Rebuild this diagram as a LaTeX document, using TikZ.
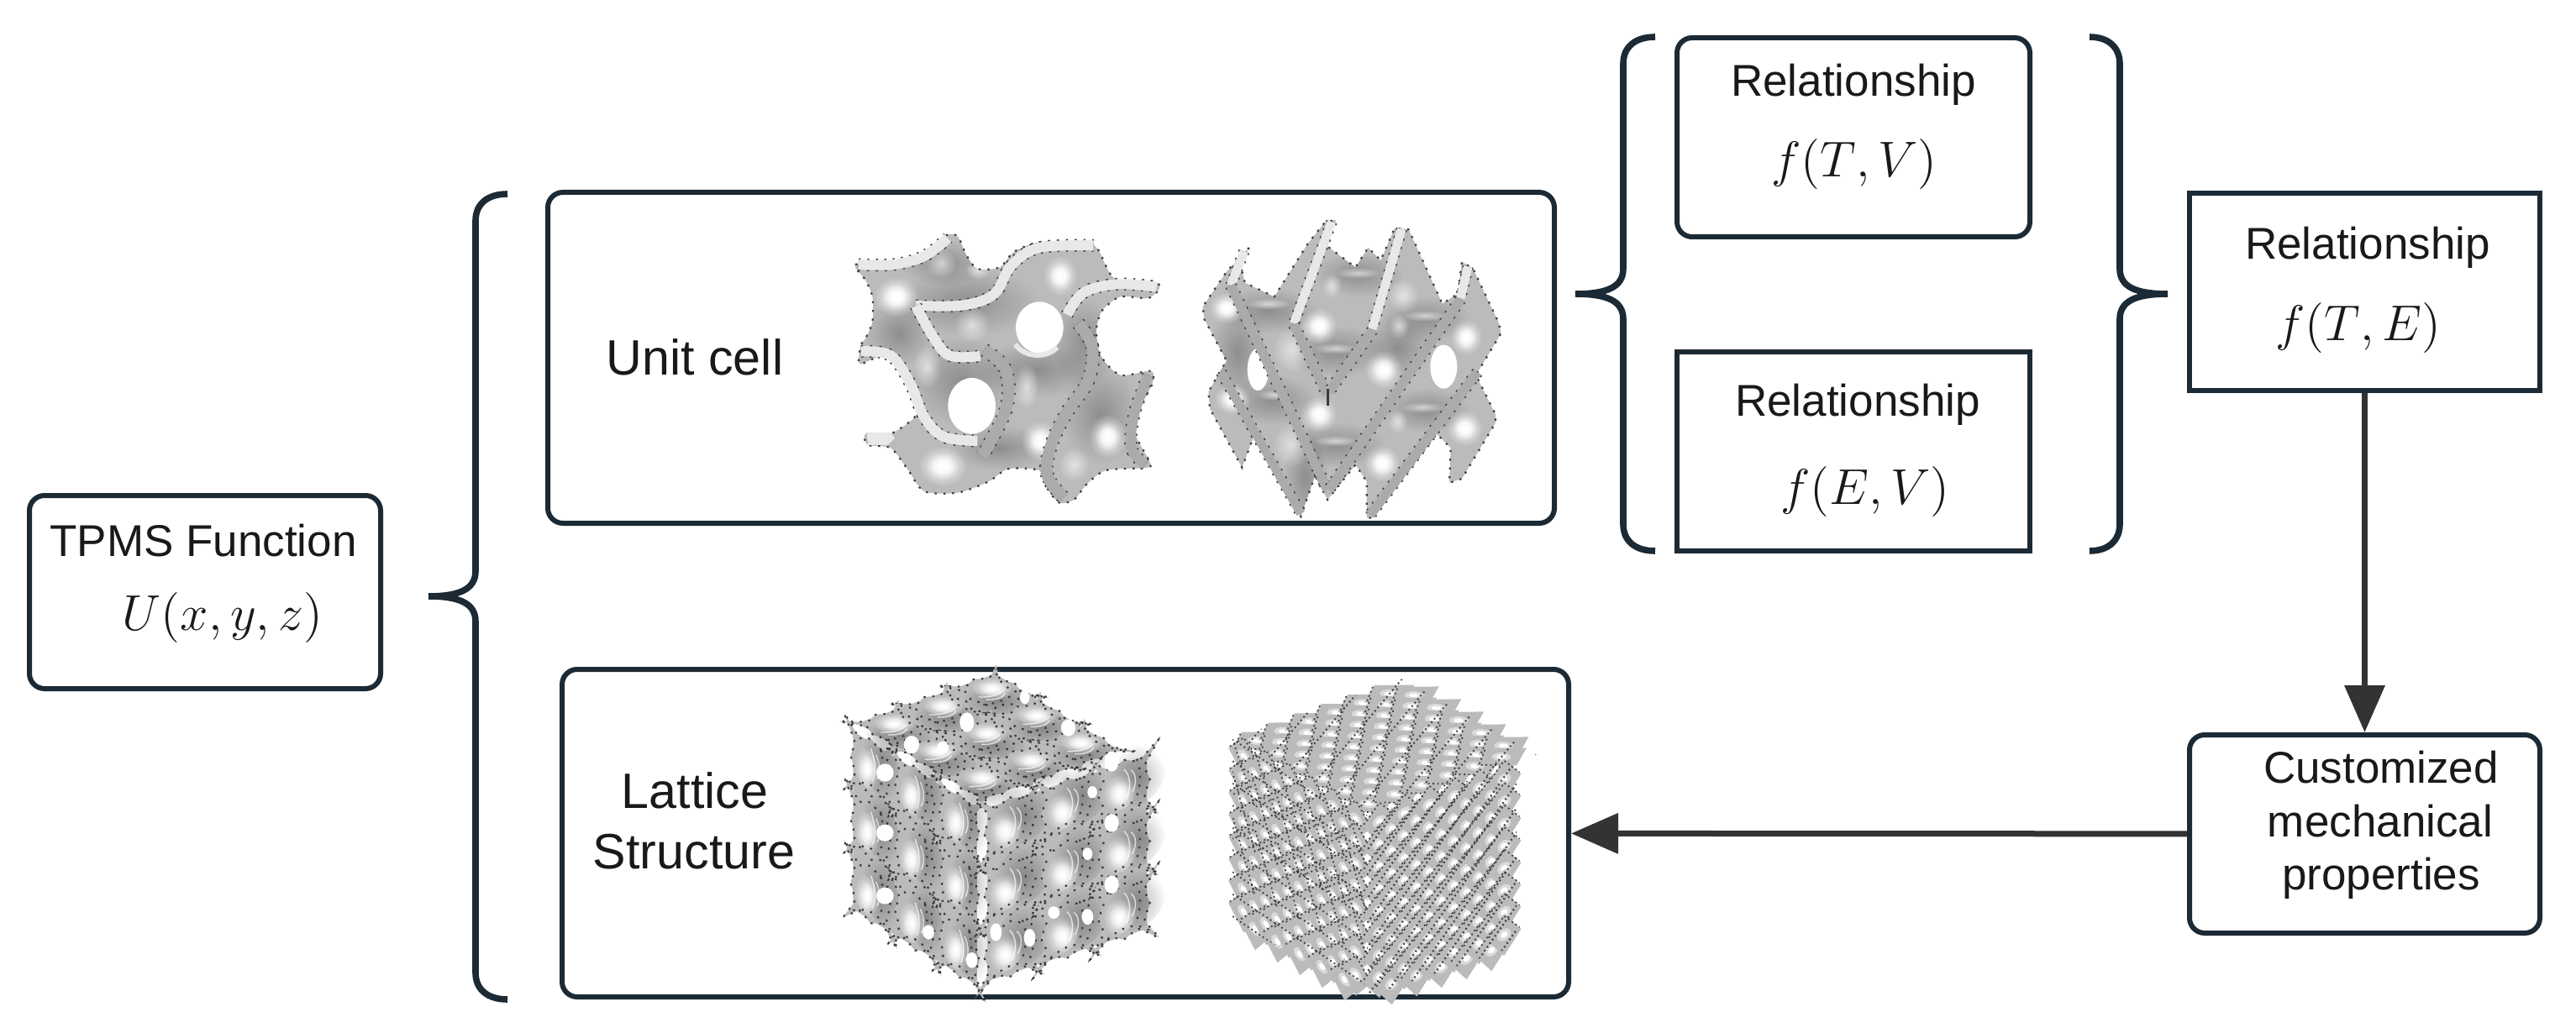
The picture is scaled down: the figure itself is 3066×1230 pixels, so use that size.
\documentclass[tikz,border=0pt]{standalone}
\usepackage{fontspec}
\setmainfont{Liberation Sans}
\usetikzlibrary{arrows.meta,fadings}
\definecolor{dk}{HTML}{1B2A35}
\definecolor{arrc}{HTML}{333333}
\definecolor{base}{HTML}{BBBBBB}
\definecolor{lband}{HTML}{E8E8E8}
\definecolor{mband}{HTML}{ABABAB}
\definecolor{dotc}{HTML}{3C3C3C}
\definecolor{ring}{HTML}{DADADA}
\tikzfading[name=softspot,inner color=transparent!0,outer color=transparent!100]
\tikzset{
  box/.style={draw=dk,line width=1.5pt,rounded corners=4.5pt,inner sep=0pt,fill=white},
  sbox/.style={draw=dk,line width=1.5pt,inner sep=0pt,fill=white},
  lab/.style={anchor=base,inner sep=0pt,font=\fontsize{13.25}{15}\selectfont,text=black!90},
  labb/.style={anchor=base,inner sep=0pt,font=\fontsize{14.8}{17}\selectfont,text=black!90},
  mth/.style={anchor=base,inner sep=0pt,font=\fontsize{14.4}{17}\selectfont,text=black!90,scale=1.04},
  brc/.style={draw=dk,line width=1.9pt,line join=bevel,line cap=butt},
  arr/.style={draw=arrc,line width=1.75pt,-{Triangle[length=14pt,width=11.75pt]}},
  dots/.style={dotc,line width=.55pt,dash pattern=on .6pt off 2pt},
  dotsb/.style={dotc,line width=.45pt,dash pattern=on .45pt off .9pt},
}
\newcommand\spot[4]{\fill[white,path fading=softspot] (#1,#2) ellipse ({1.9*#3} and {1.9*#4});
  \fill[white,path fading=softspot] (#1,#2) ellipse ({1.3*#3} and {1.3*#4});
  \fill[white,path fading=softspot] (#1,#2) ellipse ({.95*#3} and {.95*#4});}
\newcommand\fspot[4]{\fill[white,opacity=.6,path fading=softspot] (#1,#2) ellipse ({2*#3} and {2*#4});}
\newcommand\dspot[4]{\fill[black,opacity=.24,path fading=softspot] (#1,#2) ellipse ({2*#3} and {2*#4});}
\newcommand\band[3]{\draw[line width=#2pt+.75pt,dash pattern=on .6pt off 2pt,dotc] plot[smooth,tension=.6] coordinates {#3};
  \draw[line width=#2pt,#1] plot[smooth,tension=.6] coordinates {#3};}
\newcommand\leftbrace[6]{\draw[brc] (#3,#4) .. controls (#2+14,#4) and (#2,#4+12) .. (#2,#4+32) -- (#2,#5-30) .. controls (#2,#5-8) and (#2-20,#5) .. (#1,#5) .. controls (#2-20,#5) and (#2,#5+8) .. (#2,#5+30) -- (#2,#6-32) .. controls (#2,#6-12) and (#2+14,#6) .. (#3,#6);}
\newcommand\rightbrace[6]{\draw[brc] (#3,#4) .. controls (#2-14,#4) and (#2,#4+12) .. (#2,#4+32) -- (#2,#5-30) .. controls (#2,#5-8) and (#2+20,#5) .. (#1,#5) .. controls (#2+20,#5) and (#2,#5+8) .. (#2,#5+30) -- (#2,#6-32) .. controls (#2,#6-12) and (#2-14,#6) .. (#3,#6);}
% one star of the coarse lattice, drawn in the unit square of its face
\newcommand\starpath{plot[smooth cycle,tension=.35] coordinates {(-.1,-.1)(.25,.14)(.5,.05)(.75,.14)(1.1,-.1)(.86,.25)(.95,.5)(.86,.75)(1.1,1.1)(.75,.86)(.5,.95)(.25,.86)(-.1,1.1)(.14,.75)(.05,.5)(.14,.25)}}
\newcommand\starcell{%
  \fill[base] \starpath;
  \draw[dots] \starpath;
  \fill[black,opacity=.28,path fading=softspot] (.74,.36) circle (.5);
  \fill[white,path fading=softspot] (.42,.55) circle (.3);
  \fill[white,path fading=softspot] (.42,.55) circle (.2);
  \draw[dots] (.1,.92) .. controls (.45,.72) and (.7,.72) .. (.95,.95);
  \draw[dots] (.72,.1) .. controls (.8,.3) and (.8,.55) .. (.7,.75);
  \draw[white,opacity=.7,line width=.35pt] (.62,.25) .. controls (.72,.35) and (.72,.5) .. (.64,.62);
  \draw[white,opacity=.7,line width=.35pt] (.5,.2) .. controls (.62,.35) and (.62,.55) .. (.54,.7);
}
\newcommand\coarseface{%
  \fill[base] (.1,.1) -- (2.9,.1) -- (2.9,2.9) -- (.1,2.9) -- cycle;
  \foreach \i in {0,1,2} \foreach \j in {0,1,2} {\begin{scope}[shift={(\i,\j)}]\starcell\end{scope}}
}
% fine lattice
\newcommand\fineface[2]{%
  \foreach \i in {0,...,#1} {
    \pgfmathsetmacro\xx{\i*.5+.5}
    \pgfmathsetmacro\oo{mod(\i,2)*.5+.5}
    \foreach \j in {0,...,#2} {
      \pgfmathsetmacro\yy{\j+\oo}
      \begin{scope}[shift={(\xx,\yy)}]
        \fill[base] (-.68,0) -- (0,.95) -- (.68,0) -- (0,-.95) -- cycle;
        \draw[dotsb] (-.62,-.1) -- (0,-.85) -- (.62,-.1);
        \fill[ring] (0,0) circle (.27);
        \fill[white] (0,0) circle (.14);
      \end{scope}
    }
  }
}
\begin{document}
\begin{tikzpicture}[x=.25pt,y=-.25pt]
\useasboundingbox (0,0) rectangle (3066,1230);
\fill[white] (0,0) rectangle (3066,1230);
% boxes
\node[box,minimum width=104.5pt,minimum height=57.5pt] (tpms) at (244,705) {};
\node[box,minimum width=299.5pt,minimum height=98.5pt] (unit) at (1251,426) {};
\node[box,minimum width=299.5pt,minimum height=97.5pt] (latt) at (1268,992) {};
\node[box,minimum width=105pt,minimum height=59.25pt] (rela) at (2206,163.5) {};
\node[sbox,minimum width=105pt,minimum height=59.25pt] (relb) at (2206,537.5) {};
\node[sbox,minimum width=104.25pt,minimum height=58.75pt] (relc) at (2814.5,347.5) {};
\node[box,minimum width=104.25pt,minimum height=59pt] (cust) at (2814.5,993) {};
% texts
\node[lab] (t1) at (242,662) {TPMS Function};
\node[mth] (t2) at (265,750) {$U(x{,}\,y{,}\,z)$};
\node[labb] (t3) at (827,446) {Unit cell};
\node[labb] (t4) at (827,962) {Lattice};
\node[labb] (t5) at (826,1034) {Structure};
\node[lab] (t6) at (2206,115) {Relationship};
\node[mth] (t7) at (2207,211) {$f(T{,}\,V)$};
\node[lab] (t8) at (2211,496) {Relationship};
\node[mth] (t9) at (2220,600) {$f(E{,}\,V)$};
\node[lab] (t10) at (2818,309) {Relationship};
\node[mth] (t11) at (2807,406) {$f(T{,}\,E)$};
\node[lab] (t12) at (2834,932) {Customized};
\node[lab] (t13) at (2833,996) {mechanical};
\node[lab] (t14) at (2834,1059) {properties};
% braces
\leftbrace{510}{566}{604}{231}{710}{1190}
\leftbrace{1875}{1932}{1970}{44}{350}{656}
\rightbrace{2580}{2523}{2487}{44}{350}{656}
% arrows
\draw[arr] (relc) -- (cust);
\draw[arr] (cust) -- (latt);
% ---------- gyroid unit cell
\begin{scope}[shift={(950,200)},x=.08333pt,y=-.08333pt]
\def\outl{plot[smooth cycle,tension=.45] coordinates {(205,345)(340,340)(450,310)(530,240)(570,245)(600,310)(640,360)(720,355)(770,300)(860,265)(1020,262)(1070,290)(1130,395)(1270,405)(1290,430)(1250,465)(1150,460)(1085,510)(1065,580)(1080,670)(1150,740)(1260,725)(1265,770)(1225,850)(1205,950)(1250,1040)(1250,1070)(1100,1080)(1030,1130)(985,1185)(930,1195)(880,1130)(860,1080)(750,1075)(680,1120)(570,1160)(450,1155)(390,1075)(330,1000)(250,990)(240,950)(330,950)(430,870)(380,750)(310,670)(220,700)(225,630)(240,610)(265,550)(265,460)(240,400)}}
\fill[base] \outl;
\begin{scope}
\clip \outl;
\dspot{600}{480}{130}{60}
\dspot{850}{720}{110}{50}
\dspot{580}{760}{90}{80}
\dspot{360}{590}{60}{60}
\dspot{1080}{880}{70}{90}
\dspot{720}{1000}{90}{40}
\dspot{520}{340}{80}{40}
\dspot{1020}{620}{60}{80}
\spot{350}{460}{42}{38}
\spot{935}{385}{32}{38}
\fspot{620}{560}{32}{32}
\fspot{510}{340}{28}{26}
\fspot{460}{710}{25}{38}
\fspot{815}{780}{22}{42}
\fspot{640}{365}{22}{16}
\spot{865}{975}{36}{38}
\spot{1105}{960}{36}{42}
\spot{515}{1065}{46}{38}
\fspot{985}{1060}{28}{30}
\end{scope}
\fill[white] (862,570) ellipse (85 and 92);
\draw[lband,line width=1.5pt] (775,630) .. controls (810,680) and (890,680) .. (925,640);
\fill[white] (620,850) ellipse (85 and 100);
\draw[dots] \outl;
\band{lband}{3}{(215,345)(340,345)(450,315)(535,250)}
\band{lband}{3}{(420,492)(590,490)(700,450)(760,350)(860,285)(1055,277)}
\band{lband}{3}{(960,525)(1020,445)(1140,415)(1280,425)}
\band{lband}{3}{(420,492)(480,600)(540,670)(650,672)}
\band{mband}{3.4}{(665,650)(740,720)(745,850)(680,990)(655,1030)}
\band{mband}{3.4}{(1000,555)(1050,640)(1035,760)(955,880)(900,1000)(890,1100)(950,1180)}
\band{lband}{3}{(225,655)(330,670)(400,770)(450,890)(520,960)(640,975)}
\band{mband}{3}{(1250,740)(1200,880)(1190,1000)(1240,1060)}
\fill[lband] (245,945) -- (330,945) -- (345,965) -- (320,990) -- (250,990) -- cycle;
\end{scope}
% ---------- second unit cell
\begin{scope}[shift={(1410,240)},x=.08333pt,y=-.08333pt]
\def\outl{(230,165)--(150,250)--(65,375)--(70,420)--(150,570)--(130,600)--(85,680)--(90,740)--(205,950)--(250,830)--(350,1020)--(415,1125)--(465,980)--(510,1065)--(610,940)--(650,1000)--(650,1130)--(670,1130)--(900,830)--(950,880)--(945,1005)--(990,990)--(1110,790)--(1110,760)--(1040,620)--(1130,470)--(1120,430)--(1030,240)--(990,215)--(975,330)--(920,365)--(800,100)--(750,95)--(700,210)--(655,165)--(610,235)--(510,160)--(540,65)--(500,75)--(440,150)--(320,340)--(215,290)--(200,230)--cycle}
\fill[base] \outl;
\begin{scope}
\clip \outl;
\dspot{300}{390}{90}{40}
\dspot{620}{260}{80}{40}
\dspot{540}{535}{90}{45}
\dspot{860}{420}{80}{40}
\dspot{190}{540}{50}{90}
\dspot{310}{710}{80}{45}
\dspot{540}{870}{90}{40}
\dspot{860}{745}{80}{40}
\dspot{760}{520}{60}{60}
\dspot{430}{980}{40}{90}
\spot{150}{380}{34}{30}
\spot{480}{445}{34}{34}
\fspot{385}{530}{35}{40}
\spot{710}{600}{36}{36}
\spot{1005}{485}{30}{34}
\spot{170}{705}{34}{30}
\spot{480}{760}{34}{34}
\fspot{385}{870}{35}{40}
\spot{705}{935}{34}{34}
\spot{1000}{810}{34}{34}
\fspot{780}{335}{28}{30}
\fspot{525}{300}{18}{22}
\fspot{765}{445}{18}{22}
\fspot{760}{785}{18}{22}
\fspot{620}{255}{40}{10}
\fspot{300}{365}{40}{10}
\fspot{540}{525}{40}{10}
\fspot{860}{408}{40}{10}
\fspot{540}{855}{40}{10}
\fspot{850}{735}{40}{10}
\fspot{320}{690}{30}{10}
\end{scope}
\fill[white] (925,590) ellipse (48 and 78);
\fill[white] (262,600) ellipse (38 and 75);
\draw[dots] \outl;
\band{lband}{2.6}{(525,72)(390,435)}
\band{lband}{2.6}{(775,98)(670,455)}
\band{lband}{2.6}{(212,178)(165,300)}
\band{lband}{2.6}{(1012,232)(985,345)}
\band{mband}{2.8}{(165,300)(510,1030)}
\band{mband}{2.8}{(985,350)(515,1030)}
\band{mband}{2.8}{(390,440)(510,690)}
\band{mband}{2.8}{(670,460)(515,680)}
\band{mband}{2.8}{(1045,610)(662,1120)}
\band{mband}{2.6}{(130,610)(415,1115)}
\draw[dotc,line width=.8pt] (512,670) -- (512,730);
\end{scope}
% ---------- coarse lattice
\begin{scope}[shift={(1010,860)},x={(13.17pt,-8.08pt)},y={(14.58pt,5.25pt)}]
\coarseface
\end{scope}
\begin{scope}[shift={(1010,860)},x={(13.17pt,-8.08pt)},y={(0pt,-18.9pt)}]
\coarseface
\end{scope}
\begin{scope}[shift={(1168,957)},x={(17pt,5.58pt)},y={(0pt,-18.4pt)}]
\coarseface
\end{scope}
\begin{scope}[shift={(950,770)},x=.1435pt,y=-.08333pt]
\foreach \hx/\hy/\rx/\ry in {235/350/16/32,180/450/18/32,350/270/15/35,300/360/12/22,650/410/15/36,560/290/15/30,470/180/10/25,650/630/15/32,180/665/18/30,600/740/10/22,650/850/15/32,180/890/18/30,530/950/12/22,600/965/12/28,480/1040/12/32,410/1020/12/32,270/1020/12/26,360/1120/12/28,610/520/10/22}
  {\fill[white] (\hx,\hy) ellipse ({\rx} and {\ry});}
\end{scope}
% ---------- fine lattice
\begin{scope}[shift={(1467,880)},x={(6.67pt,-3.75pt)},y={(7.875pt,2.79pt)}]
\fineface{10}{5}
\begin{scope}
\clip (0,0) -- (6,0) -- (6,6.4) -- (0,6.4) -- cycle;
\foreach \k in {-4,...,7} {\draw[dotsb,line width=.5pt] (\k,6.4) -- ++(3.6,-6.4);}
\end{scope}
\end{scope}
\begin{scope}[shift={(1467,880)},x={(6.67pt,-3.75pt)},y={(0pt,-6.6pt)}]
\fineface{10}{7}
\begin{scope}
\clip (0,0) -- (6,0) -- (6,8.2) -- (0,8.2) -- cycle;
\foreach \k in {-6,...,6} {\draw[dotsb] (\k,0) -- ++(1,2.5) -- ++(1,-1) -- ++(1,3) -- ++(1,-1) -- ++(1,3);}
\foreach \k in {0,...,8} {\draw[dotsb] (0,\k) -- ++(6,.7);}
\end{scope}
\end{scope}
\begin{scope}[shift={(1627,970)},x={(7.42pt,2.5pt)},y={(0pt,-6.6pt)}]
\fineface{10}{7}
\begin{scope}
\clip (0,0) -- (6,0) -- (6,8.2) -- (0,8.2) -- cycle;
\foreach \k in {-6,-5,...,8} {\draw[dotsb,line width=.55pt] (\k*.9,8.2) -- ++(6.72,-8.2);}
\end{scope}
\end{scope}
\end{tikzpicture}
\end{document}
